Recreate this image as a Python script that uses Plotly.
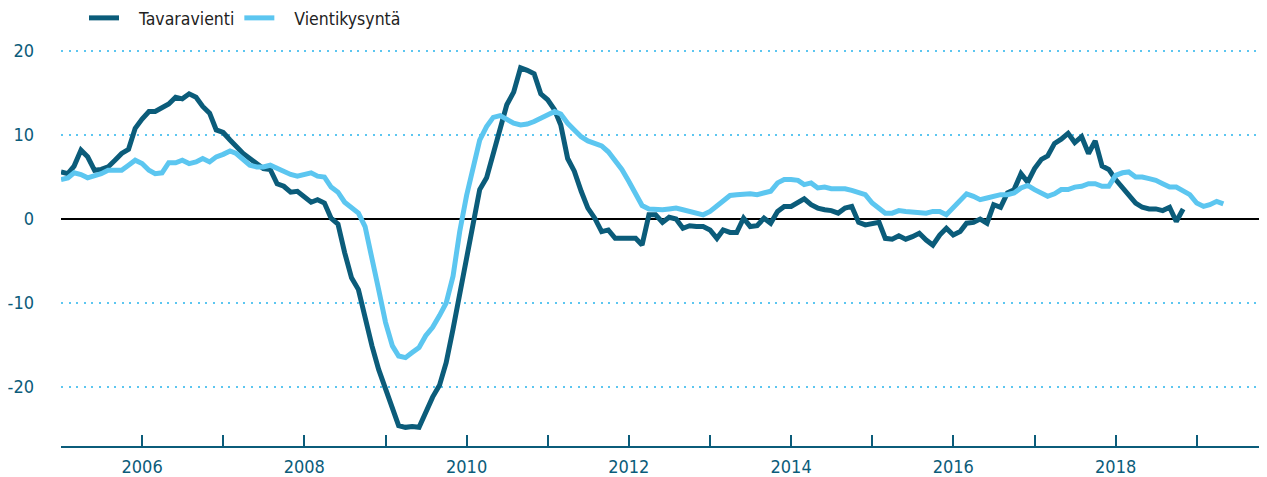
import pandas as pd
import plotly.graph_objects as go

# Monthly series starting January 2005 (annual % change)
tavaravienti = [
    5.6, 5.4, 6.3, 8.2, 7.4, 5.8, 5.9, 6.2, 7.0, 7.8, 8.3, 10.8,
    11.9, 12.8, 12.8, 13.2, 13.7, 14.5, 14.3, 14.9, 14.5, 13.4, 12.6, 10.6,
    10.3, 9.4, 8.6, 7.8, 7.2, 6.6, 6.0, 5.9, 4.2, 3.9, 3.2, 3.3,
    2.7, 2.0, 2.3, 1.9, 0.1, -0.6, -4.0, -7.0, -8.4, -11.9, -15.1, -17.9,
    -20.2, -22.2, -24.6, -24.8, -24.7, -24.8, -23.0, -21.2, -19.8, -17.1, -13.1, -9.0,
    -5.3, -1.0, 3.5, 4.9, 7.6, 10.4, 13.6, 15.1, 18.0, 17.7, 17.3, 14.9,
    14.2, 13.0, 11.2, 7.2, 5.7, 3.3, 1.3, 0.1, -1.5, -1.3, -2.3, -2.3,
    -2.3, -2.3, -3.1, 0.5, 0.5, -0.4, 0.2, 0.0, -1.1, -0.8, -0.9, -0.9,
    -1.3, -2.3, -1.3, -1.6, -1.6, 0.1, -0.9, -0.8, 0.1, -0.5, 0.9, 1.5,
    1.5, 2.0, 2.4, 1.7, 1.3, 1.1, 1.0, 0.7, 1.3, 1.5, -0.4, -0.7,
    -0.5, -0.4, -2.3, -2.4, -2.0, -2.4, -2.1, -1.7, -2.5, -3.1, -1.9, -1.1,
    -1.9, -1.5, -0.5, -0.4, 0.0, -0.5, 1.7, 1.4, 3.1, 3.5, 5.4, 4.4,
    6.0, 7.1, 7.5, 9.0, 9.5, 10.2, 9.1, 9.8, 7.8, 9.3, 6.3, 5.9,
    4.7, 3.7, 2.7, 1.9, 1.4, 1.2, 1.2, 1.0, 1.4, -0.3, 1.2,
]

vientikysynta = [
    4.7, 4.9, 5.5, 5.3, 4.9, 5.1, 5.4, 5.8, 5.8, 5.8, 6.4, 7.0,
    6.6, 5.8, 5.4, 5.5, 6.7, 6.7, 7.0, 6.6, 6.8, 7.2, 6.8, 7.4,
    7.7, 8.1, 7.8, 7.1, 6.4, 6.2, 6.2, 6.4, 6.0, 5.7, 5.3, 5.1,
    5.3, 5.5, 5.1, 5.0, 3.8, 3.2, 2.0, 1.3, 0.7, -0.9, -4.4, -8.4,
    -12.3, -15.1, -16.3, -16.5, -15.9, -15.3, -13.9, -12.9, -11.5, -10.0, -6.8, -1.5,
    2.8, 6.4, 9.4, 11.0, 12.1, 12.3, 11.9, 11.4, 11.2, 11.3, 11.6, 12.0,
    12.5, 12.8, 12.5, 11.4, 10.6, 9.8, 9.3, 9.0, 8.7, 8.0, 6.9, 5.9,
    4.5, 3.0, 1.6, 1.2, 1.1, 1.1, 1.2, 1.3, 1.1, 0.9, 0.6, 0.5,
    0.9, 1.5, 2.2, 2.8, 2.9, 3.0, 3.0, 2.9, 3.1, 3.3, 4.3, 4.7,
    4.7, 4.6, 4.1, 4.3, 3.7, 3.8, 3.6, 3.6, 3.6, 3.4, 3.1, 2.9,
    1.9, 1.3, 0.7, 0.7, 1.0, 0.9, 0.8, 0.8, 0.7, 0.9, 0.9, 0.5,
    1.3, 2.3, 3.0, 2.7, 2.3, 2.5, 2.7, 2.9, 2.9, 3.1, 3.7, 4.0,
    3.5, 3.0, 2.7, 3.0, 3.5, 3.5, 3.8, 3.9, 4.2, 4.2, 3.9, 3.9,
    5.2, 5.5, 5.6, 5.0, 5.0, 4.8, 4.6, 4.2, 3.8, 3.8, 3.3, 2.9,
    1.9, 1.5, 1.7, 2.1, 1.8,
]

series_names = ["Tavaravienti", "Vientikysyntä"]
y_ticks = [-20, -10, 0, 10, 20]
x_tick_years = list(range(2005, 2020))
x_label_years = [2006, 2008, 2010, 2012, 2014, 2016, 2018]

DARK = "#0b5c7a"
LIGHT = "#5cc6f0"
FONT = "'Liberation Sans Narrow', 'Arial Narrow', 'DejaVu Sans Condensed', Roboto, sans-serif"
NBSP = "\u00a0"

# page body has an 8px default margin, so the figure is sized to fit the window
W, H = 1259, 469

d1 = pd.date_range("2005-01-01", periods=len(tavaravienti), freq="MS")
d2 = pd.date_range("2005-01-01", periods=len(vientikysynta), freq="MS")

fig = go.Figure()
fig.add_trace(go.Scatter(x=d1, y=tavaravienti, mode="lines", name=NBSP * 3 + series_names[0],
                         line=dict(color=DARK, width=5)))
fig.add_trace(go.Scatter(x=d2, y=vientikysynta, mode="lines", name=NBSP * 3 + series_names[1],
                         line=dict(color=LIGHT, width=5)))

tickvals = [pd.Timestamp(f"{y}-01-01") for y in x_tick_years]
ticktext = [str(y) if y in x_label_years else "" for y in x_tick_years]

fig.update_layout(
    width=W, height=H,
    margin=dict(l=53, r=1, t=22, b=31, autoexpand=False),
    paper_bgcolor="white", plot_bgcolor="white",
    font=dict(family=FONT, size=18, color="#222222"),
    showlegend=True,
    legend=dict(orientation="h", xref="container", yref="container",
                x=76 / W, y=1 - 10 / H, xanchor="left", yanchor="middle",
                font=dict(size=17.5, color="#222222"), bgcolor="rgba(0,0,0,0)",
                itemwidth=30),
    xaxis=dict(
        range=[pd.Timestamp("2005-01-01"), pd.Timestamp("2019-11-09")],
        tickmode="array", tickvals=tickvals, ticktext=ticktext,
        ticks="inside", ticklen=11, tickwidth=2, tickcolor=DARK,
        showline=True, linecolor=DARK, linewidth=2,
        showgrid=False, zeroline=False, automargin=False,
        tickfont=dict(size=18, color=DARK), ticklabelstandoff=3,
    ),
    yaxis=dict(
        range=[-27.02, 22.5],
        tickmode="array", tickvals=y_ticks, ticktext=[str(v) for v in y_ticks],
        ticks="", showline=False, automargin=False,
        showgrid=True, gridcolor=LIGHT, gridwidth=2, griddash="2px,5.6px",
        zeroline=True, zerolinecolor="#000000", zerolinewidth=2,
        tickfont=dict(size=18, color=DARK), ticklabelstandoff=26,
    ),
)

fig.write_html("out.html")
